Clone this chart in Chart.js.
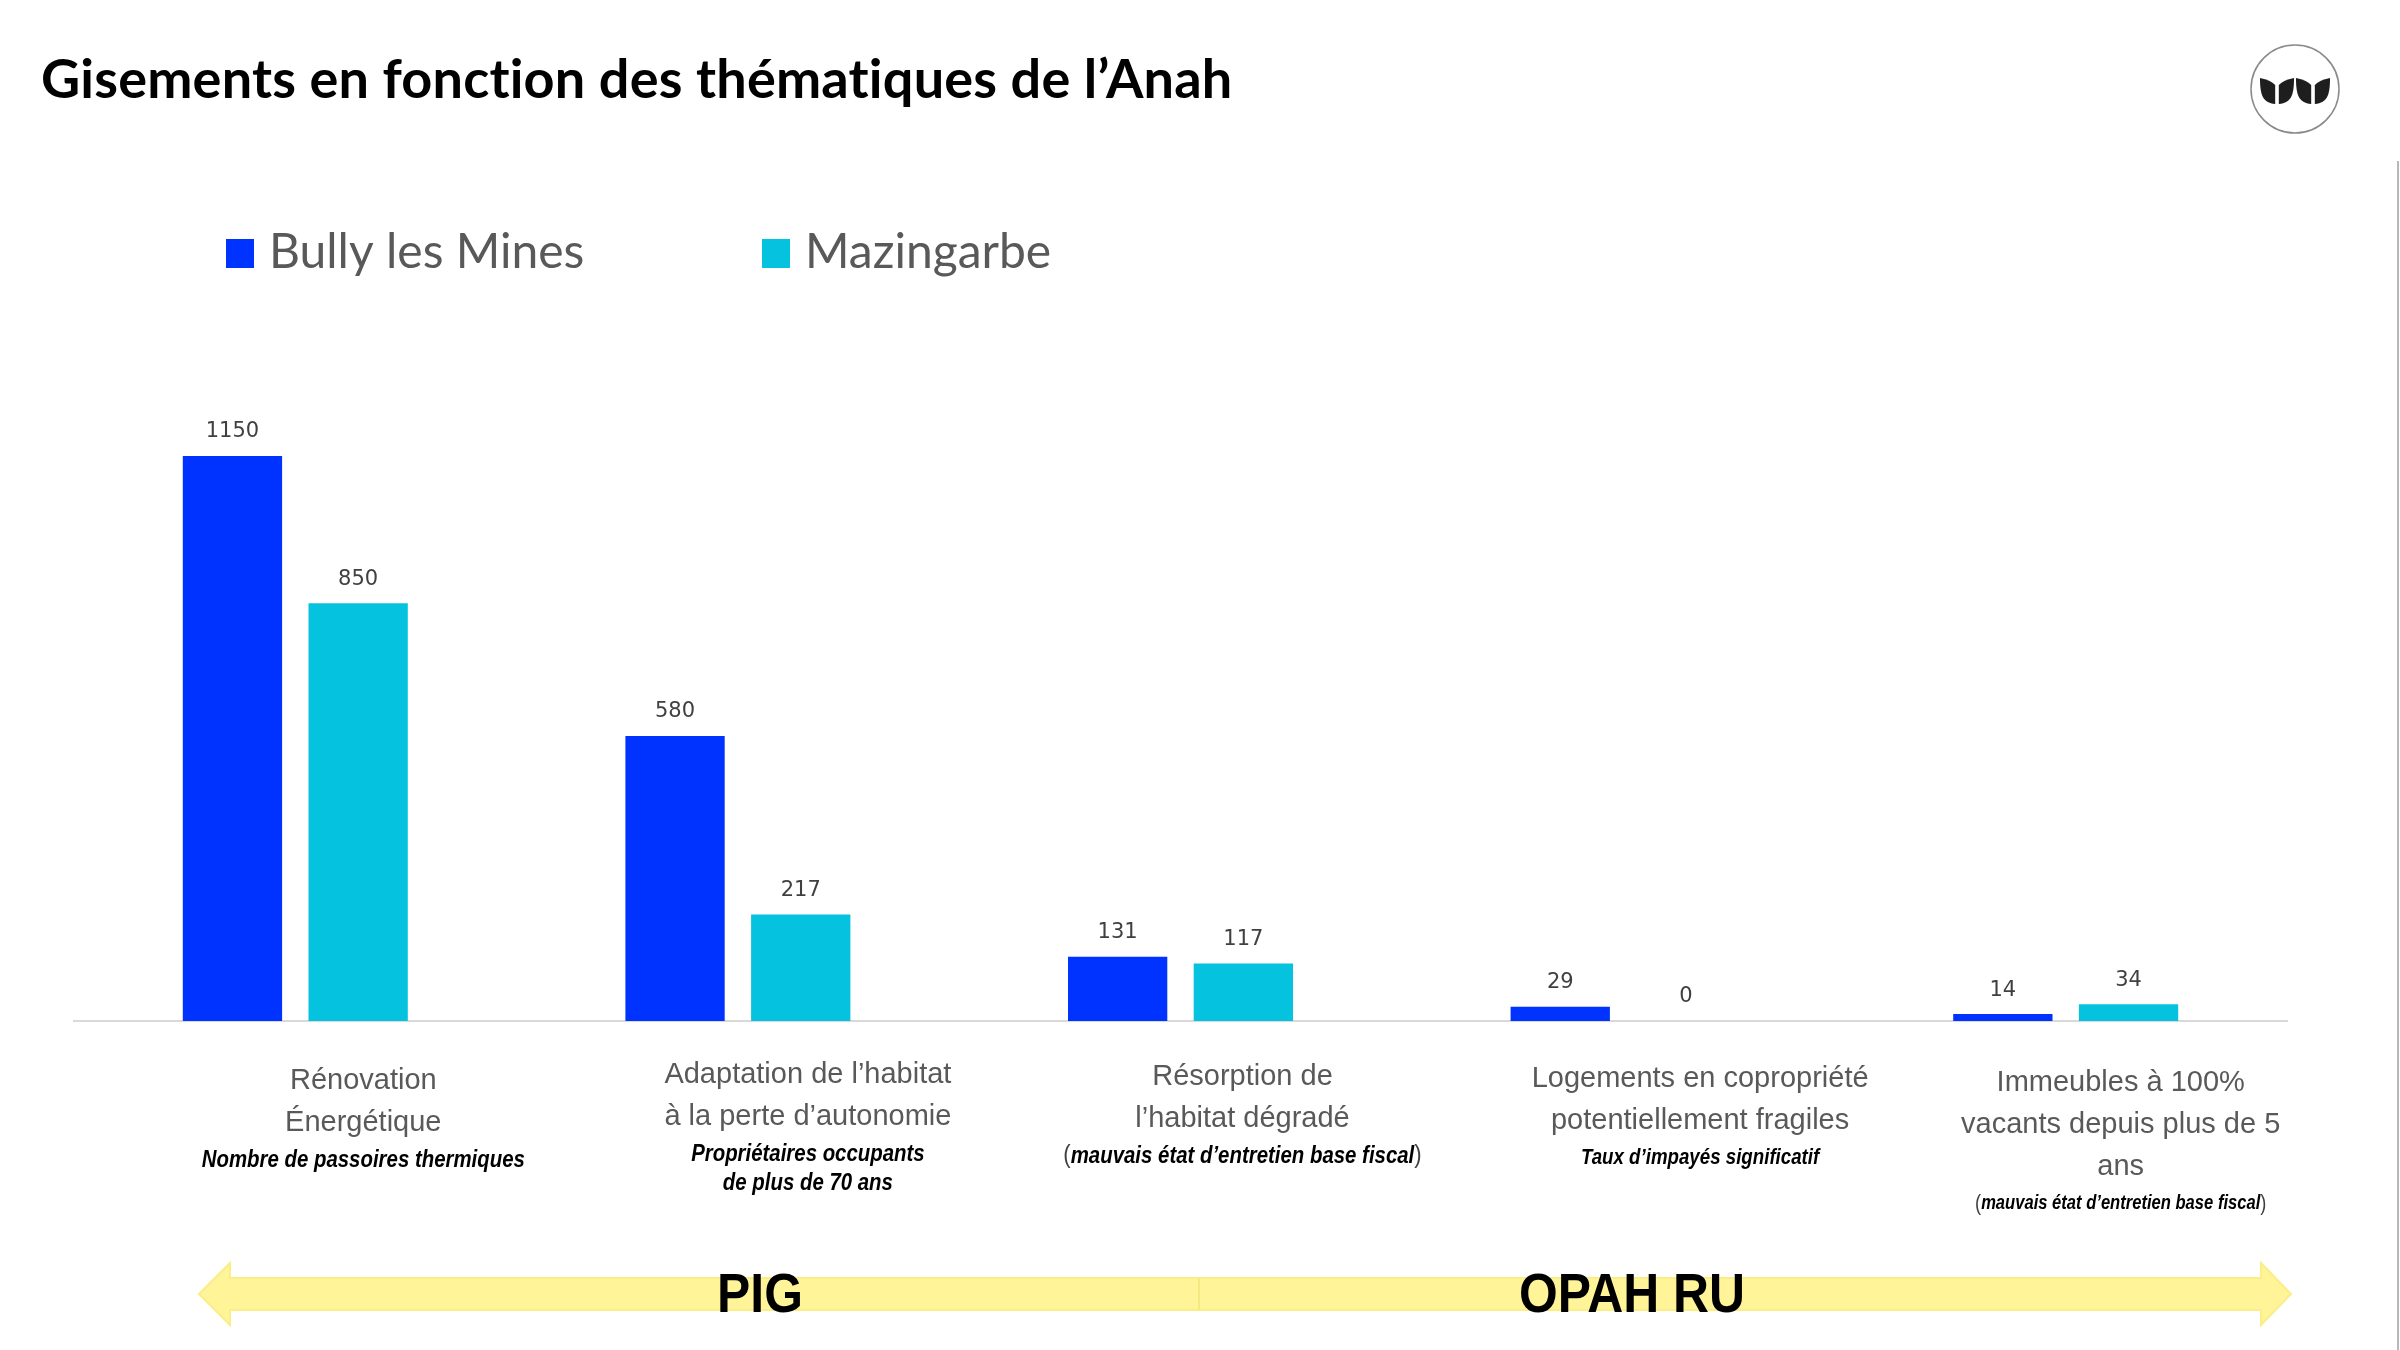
<!DOCTYPE html>
<html>
<head>
<meta charset="utf-8">
<script src="https://cdn.jsdelivr.net/npm/chart.js@4.4.1/dist/chart.umd.min.js"></script>
<style>
  html, body { margin: 0; padding: 0; background: #ffffff; }
  #wrap { position: relative; width: 2400px; height: 1350px; }
  canvas { display: block; }
</style>
</head>
<body>
<div id="wrap"><canvas id="c" width="2400" height="1350"></canvas></div>
<script>
// ---------- DATA ----------
const chartTitle = "Gisements en fonction des thématiques de l’Anah";
const seriesNames = ["Bully les Mines", "Mazingarbe"];
const categoryLabels = [
  ["Rénovation", "Énergétique"],
  ["Adaptation de l’habitat", "à la perte d’autonomie"],
  ["Résorption de", "l’habitat dégradé"],
  ["Logements en copropriété", "potentiellement fragiles"],
  ["Immeubles à 100%", "vacants depuis plus de 5", "ans"]
];
const categoryNotes = [
  ["Nombre de passoires thermiques"],
  ["Propriétaires occupants", "de plus de 70 ans"],
  ["(mauvais état d’entretien base fiscal)"],
  ["Taux d’impayés significatif"],
  ["(mauvais état d’entretien base fiscal)"]
];
const bullyValues = [1150, 580, 131, 29, 14];
const mazingarbeValues = [850, 217, 117, 0, 34];
const programmes = ["PIG", "OPAH RU"];

// ---------- STYLE ----------
const colors = ["#0033FF", "#05C3DE"];
const labelOffsetX = [68, 70, 62, 77, 55];
const labelOffsetY = [4, -2, 0, 2, 6];
const noteSizes = [24, 24, 24, 22, 19.5];
const programmeX = [760, 1632];

function drawScaledText(ctx, text, x, y, font, color, sx, align) {
  ctx.save();
  ctx.font = font;
  ctx.fillStyle = color;
  ctx.textBaseline = "middle";
  ctx.textAlign = "left";
  const w = ctx.measureText(text).width * sx;
  let left = x;
  if (align === "center") left = x - w / 2;
  ctx.translate(left, y);
  ctx.scale(sx, 1);
  ctx.fillText(text, 0, 0);
  ctx.restore();
  return w;
}

function drawNote(ctx, text, cx, y, size) {
  const sx = 0.85;
  const bi = "italic bold " + size + "px 'Liberation Sans', Arial, sans-serif";
  const rg = (size + 2) + "px 'Liberation Sans', Arial, sans-serif";
  if (text.startsWith("(") && text.endsWith(")")) {
    const inner = text.slice(1, -1);
    ctx.save();
    ctx.font = rg; const wp = ctx.measureText("(").width * sx;
    ctx.font = bi; const wi = ctx.measureText(inner).width * sx;
    ctx.restore();
    const total = wp * 2 + wi;
    let x = cx - total / 2;
    drawScaledText(ctx, "(", x, y, rg, "#404040", sx, "left"); x += wp;
    drawScaledText(ctx, inner, x, y, bi, "#000000", sx, "left"); x += wi;
    drawScaledText(ctx, ")", x, y, rg, "#404040", sx, "left");
  } else {
    drawScaledText(ctx, text, cx, y, bi, "#000000", sx, "center");
  }
}

function leaf(ctx, innerX, outerX, top, bottom) {
  ctx.beginPath();
  ctx.moveTo(outerX, top);
  ctx.quadraticCurveTo(innerX + (outerX - innerX) * 0.3, top + 2, innerX, top + 7);
  ctx.lineTo(innerX, bottom);
  ctx.bezierCurveTo(outerX + (innerX - outerX) * 0.15, bottom - 1, outerX, bottom - 10, outerX, top);
  ctx.closePath();
  ctx.fill();
}

const decorPlugin = {
  id: "decor",
  beforeDraw(chart) {
    const ctx = chart.ctx;
    ctx.save();
    ctx.fillStyle = "#ffffff";
    ctx.fillRect(0, 0, chart.width, chart.height);
    ctx.restore();
  },
  afterDraw(chart) {
    const ctx = chart.ctx;
    const xs = chart.scales.x;
    const area = chart.chartArea;

    // Title
    ctx.save();
    ctx.font = "bold 54px Lato, 'Open Sans', sans-serif";
    try { ctx.letterSpacing = "0.2px"; } catch (e) {}
    ctx.fillStyle = "#000000";
    ctx.textBaseline = "middle";
    ctx.textAlign = "left";
    ctx.fillText(chartTitle, 41, 81);
    ctx.restore();

    // Logo
    ctx.save();
    ctx.beginPath();
    ctx.arc(2295, 89, 44, 0, Math.PI * 2);
    ctx.fillStyle = "#ffffff";
    ctx.fill();
    ctx.lineWidth = 1.5;
    ctx.strokeStyle = "#8a8a8a";
    ctx.stroke();
    ctx.fillStyle = "#1e1e1e";
    [2277, 2313].forEach(c => {
      leaf(ctx, c - 1.8, c - 17, 78, 104);
      leaf(ctx, c + 1.8, c + 17, 78, 104);
    });
    ctx.restore();

    // Right edge line
    ctx.save();
    ctx.strokeStyle = "#b8b8b8";
    ctx.lineWidth = 2;
    ctx.beginPath();
    ctx.moveTo(2398, 161);
    ctx.lineTo(2398, 1350);
    ctx.stroke();
    ctx.restore();

    // Legend
    const legendX = [226, 762];
    seriesNames.forEach((name, i) => {
      ctx.save();
      ctx.fillStyle = colors[i];
      ctx.fillRect(legendX[i], 239, 28, 29);
      ctx.font = "48px Lato, 'Open Sans', sans-serif";
      ctx.fillStyle = "#595959";
      ctx.textBaseline = "middle";
      ctx.textAlign = "left";
      ctx.fillText(name, legendX[i] + 43, 253);
      ctx.restore();
    });

    // Value labels
    chart.data.datasets.forEach((ds, di) => {
      const meta = chart.getDatasetMeta(di);
      meta.data.forEach((bar, i) => {
        ctx.save();
        ctx.font = "21px 'DejaVu Sans', sans-serif";
        ctx.fillStyle = "#404040";
        ctx.textAlign = "center";
        ctx.textBaseline = "middle";
        ctx.fillText(String(ds.data[i]), bar.x, bar.y - 24);
        ctx.restore();
      });
    });

    // Category labels
    const axisY = area.bottom;
    categoryLabels.forEach((lines, i) => {
      const cx = xs.getPixelForValue(i) + labelOffsetX[i];
      let y = axisY + 56 + labelOffsetY[i];
      lines.forEach((ln, k) => {
        ctx.save();
        ctx.font = "29px 'Liberation Sans', Arial, sans-serif";
        ctx.fillStyle = "#595959";
        ctx.textAlign = "center";
        ctx.textBaseline = "middle";
        ctx.fillText(ln, cx, y + k * 42);
        ctx.restore();
      });
      let ny = y + (lines.length - 1) * 42 + 37;
      categoryNotes[i].forEach((nt, k) => {
        drawNote(ctx, nt, cx, ny + k * 29, noteSizes[i]);
      });
    });

    // Arrow
    ctx.save();
    const ay = 1294, tipL = 199, baseL = 230, tipR = 2291, baseR = 2261;
    const sh = 16, hh = 31;
    ctx.beginPath();
    ctx.moveTo(tipL, ay);
    ctx.lineTo(baseL, ay - hh);
    ctx.lineTo(baseL, ay - sh);
    ctx.lineTo(baseR, ay - sh);
    ctx.lineTo(baseR, ay - hh);
    ctx.lineTo(tipR, ay);
    ctx.lineTo(baseR, ay + hh);
    ctx.lineTo(baseR, ay + sh);
    ctx.lineTo(baseL, ay + sh);
    ctx.lineTo(baseL, ay + hh);
    ctx.closePath();
    ctx.fillStyle = "#FFF498";
    ctx.fill();
    ctx.lineWidth = 2;
    ctx.strokeStyle = "#FAEE86";
    ctx.stroke();
    ctx.beginPath();
    ctx.moveTo(1199, ay - sh);
    ctx.lineTo(1199, ay + sh);
    ctx.strokeStyle = "#F5E67A";
    ctx.lineWidth = 1.5;
    ctx.stroke();
    ctx.restore();

    programmes.forEach((p, i) => {
      drawScaledText(ctx, p, programmeX[i], 1297, "bold 56px 'Liberation Sans', Arial, sans-serif", "#000000", 0.89, "center");
    });
  }
};

new Chart(document.getElementById("c"), {
  type: "bar",
  data: {
    labels: categoryLabels.map(l => l.join(" ")),
    datasets: [
      { label: seriesNames[0], data: bullyValues, backgroundColor: colors[0], borderWidth: 0 },
      { label: seriesNames[1], data: mazingarbeValues, backgroundColor: colors[1], borderWidth: 0 }
    ]
  },
  options: {
    responsive: false,
    animation: false,
    devicePixelRatio: 1,
    layout: { padding: { left: 74, right: 113, top: 284, bottom: 329 } },
    plugins: { legend: { display: false }, title: { display: false }, tooltip: { enabled: false } },
    datasets: { bar: { categoryPercentage: 0.568, barPercentage: 0.79 } },
    scales: {
      x: {
        grid: { display: false, drawTicks: false },
        border: { display: true, color: "#D9D9D9", width: 2 },
        ticks: { display: false }
      },
      y: {
        display: false,
        min: 0,
        max: 1500
      }
    }
  },
  plugins: [decorPlugin]
});
</script>
</body>
</html>
